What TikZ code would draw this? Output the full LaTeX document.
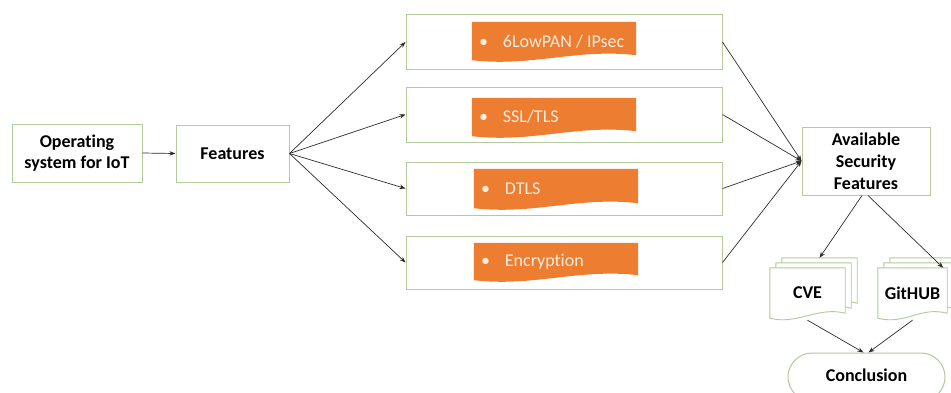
\documentclass[tikz,border=0pt]{standalone}
\usepackage{fontspec}
\setmainfont{Carlito}[Ligatures={NoCommon}]
\usetikzlibrary{arrows.meta,calc,backgrounds}
\definecolor{bord}{RGB}{178,202,156}
\definecolor{org}{RGB}{237,125,49}
\definecolor{otxt}{RGB}{253,236,222}
\definecolor{ln}{RGB}{45,45,45}
\newcommand\docpath[2]{(#1.north west) -- (#1.north east) -- ([yshift=7pt]#1.south east) .. controls ([xshift=-#2,yshift=14pt]#1.south east) and ([xshift=#2,yshift=-5pt]#1.south west) .. ([yshift=2pt]#1.south west) -- cycle}
\begin{document}
\begin{tikzpicture}[x=1pt,y=-1pt,
  box/.style={draw=bord, line width=1pt, inner sep=0pt, align=center,
    font=\fontsize{18}{21}\selectfont\bfseries},
  bigbox/.style={draw=bord, line width=1pt, minimum width=316pt, inner sep=0pt},
  obox/.style={minimum width=164pt, inner sep=0pt, text=otxt,
    font=\fontsize{18}{20}\selectfont},
  doc/.style={inner sep=0pt, font=\fontsize{18}{21}\selectfont\bfseries},
  arr/.style={draw=ln, line width=0.7pt, -{Stealth[length=6pt,width=4.5pt]}}]
\useasboundingbox (0,0) rectangle (951,392);
\clip (0,0) rectangle (951,392);
\begin{scope}[on background layer]
  \fill[white] (0,0) rectangle (951,392);
\end{scope}

\node[box, minimum width=130pt, minimum height=58pt] (os) at (77,153) {Operating\\system for IoT};
\node[box, minimum width=113pt, minimum height=57pt] (feat) at (232.5,153.5) {Features};

\node[bigbox, minimum height=55pt] (b1) at (564,42) {};
\node[bigbox, minimum height=55pt] (b2) at (564,114.5) {};
\node[bigbox, minimum height=53pt] (b3) at (564,188.5) {};
\node[bigbox, minimum height=53pt] (b4) at (564,262.5) {};

\node[obox, minimum height=40pt] (o1) at (554,42) {\raisebox{2pt}{\makebox[164pt][l]{\hspace{7pt}•\hspace{15pt}6LowPAN / IPsec}}};
\node[obox, minimum height=40pt] (o2) at (554,118) {\raisebox{3pt}{\makebox[164pt][l]{\hspace{7pt}•\hspace{15pt}SSL/TLS}}};
\node[obox, minimum height=41pt] (o3) at (556,189.5) {\raisebox{2.5pt}{\makebox[164pt][l]{\hspace{7pt}•\hspace{15pt}DTLS}}};
\node[obox, minimum height=39pt] (o4) at (556,262.5) {\raisebox{4pt}{\makebox[164pt][l]{\hspace{7pt}•\hspace{15pt}Encryption}}};

\node[box, minimum width=128pt, minimum height=68pt, font=\fontsize{18}{22}\selectfont\bfseries] (avail) at (866,161) {Available\\Security\\Features};

\node[doc, minimum width=75pt, minimum height=52pt] (cve3) at (819.5,284) {};
\node[doc, minimum width=75pt, minimum height=52pt] (cve2) at (813.5,289) {};
\node[doc, minimum width=75pt, minimum height=52pt] (cve) at (807.5,294) {\raisebox{2pt}{CVE}};
\node[doc, minimum width=69pt, minimum height=52pt] (git3) at (924.5,284) {};
\node[doc, minimum width=69pt, minimum height=52pt] (git2) at (918.5,289) {};
\node[doc, minimum width=69pt, minimum height=52pt] (git) at (912.5,294) {\raisebox{2pt}{GitHUB}};

\node[box, minimum width=157pt, minimum height=48pt, rounded corners=24pt, font=\fontsize{18}{21}\selectfont\bfseries] (concl) at (866.5,377) {\raisebox{4pt}{Conclusion}};

\begin{scope}[on background layer]
  \foreach \n in {o1,o2,o3,o4} {\fill[org] \docpath{\n}{60pt};}
  \foreach \n in {cve3,cve2,cve,git3,git2,git} {\filldraw[fill=white, draw=bord, line width=0.9pt] \docpath{\n}{28pt};}
\end{scope}

\draw[arr] (os.east) -- (feat.west);
\foreach \i in {1,2,3,4} {\draw[arr] (feat.east) -- (b\i.west);}
\foreach \i in {1,2,3,4} {\draw[arr] (b\i.east) -- (avail.west);}
\draw[arr] ([xshift=-4pt]avail.south) -- (cve3.north);
\draw[arr] ([xshift=2pt]avail.south) -- ([xshift=-4pt]git.north east);
\draw[arr] (cve.south) -- ([xshift=-3pt]concl.north);
\draw[arr] (git.south) -- ([xshift=2pt]concl.north);
\end{tikzpicture}
\end{document}
